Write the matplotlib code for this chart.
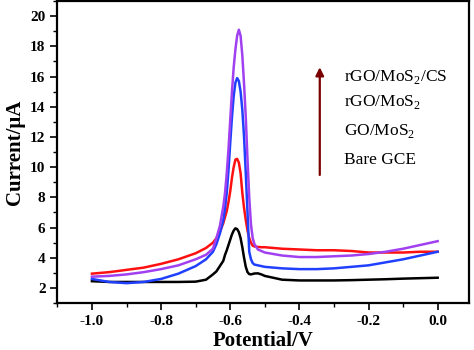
import numpy as np
import matplotlib
matplotlib.use("Agg")
import matplotlib.pyplot as plt
from matplotlib.ticker import MultipleLocator

plt.rcParams['font.family'] = ['Liberation Serif', 'DejaVu Serif']
plt.rcParams['mathtext.fontset'] = 'custom'
plt.rcParams['mathtext.rm'] = 'Liberation Serif'

# potential (V)
potential = [-1.0, -0.95, -0.9, -0.85, -0.8, -0.75, -0.7, -0.67, -0.65, -0.64,
             -0.63, -0.62, -0.615, -0.61, -0.605, -0.60, -0.595, -0.59, -0.585,
             -0.58, -0.575, -0.57, -0.565, -0.56, -0.555, -0.55, -0.545, -0.54,
             -0.535, -0.53, -0.52, -0.51, -0.5, -0.45, -0.4, -0.35, -0.3,
             -0.25, -0.2, -0.15, -0.1, -0.05, 0.0]

# currents (uA)
bare_gce = [2.45, 2.4, 2.4, 2.4, 2.4, 2.4, 2.42, 2.55, 2.9, 3.1,
            3.45, 3.8, 4.2, 4.5, 4.85, 5.2, 5.55, 5.8, 5.95,
            5.9, 5.7, 5.3, 4.7, 4.0, 3.4, 3.05, 2.92, 2.9,
            2.93, 2.96, 2.97, 2.9, 2.8, 2.55, 2.5, 2.5, 2.5,
            2.52, 2.55, 2.58, 2.62, 2.65, 2.68]
go_mos2 = [2.95, 3.05, 3.2, 3.35, 3.6, 3.9, 4.3, 4.65, 5.0, 5.3,
           5.7, 6.3, 6.7, 7.1, 7.7, 8.4, 9.3, 10.0, 10.5,
           10.55, 10.3, 9.6, 8.3, 7.3, 6.5, 5.8, 5.3, 5.0,
           4.8, 4.75, 4.72, 4.7, 4.7, 4.6, 4.55, 4.5, 4.5,
           4.45, 4.35, 4.35, 4.35, 4.4, 4.4]
rgo_mos2 = [2.6, 2.4, 2.32, 2.4, 2.6, 2.95, 3.45, 3.9, 4.4, 4.9,
            5.6, 6.5, 7.3, 8.3, 9.8, 11.6, 13.3, 14.7, 15.6,
            15.9, 15.7, 15.0, 13.8, 12.0, 9.6, 7.0, 4.4, 3.9,
            3.65, 3.55, 3.5, 3.45, 3.4, 3.3, 3.25, 3.25, 3.3,
            3.4, 3.5, 3.7, 3.9, 4.15, 4.4]
rgo_mos2_cs = [2.75, 2.8, 2.9, 3.05, 3.25, 3.5, 3.9, 4.2, 4.6, 5.3,
               6.1, 7.4, 8.3, 9.6, 11.2, 13.1, 15.0, 16.6, 17.8,
               18.7, 19.1, 18.7, 17.4, 15.5, 13.3, 10.5, 8.0, 6.2,
               5.3, 4.9, 4.55, 4.45, 4.35, 4.15, 4.05, 4.05, 4.1,
               4.15, 4.25, 4.4, 4.6, 4.85, 5.1]

labels = ['rGO/MoS$_2$/CS', 'rGO/MoS$_2$', 'GO/MoS$_2$', 'Bare GCE']

fig = plt.figure(figsize=(4.74, 3.5), dpi=100)
ax = fig.add_axes([0.121, 0.134, 0.868, 0.863])

ax.plot(potential, bare_gce, color='black', lw=1.8)
ax.plot(potential, go_mos2, color='#ff1010', lw=1.8)
ax.plot(potential, rgo_mos2, color='#2040ff', lw=1.8)
ax.plot(potential, rgo_mos2_cs, color='#a040f0', lw=1.8)

ax.set_xlim(-1.1, 0.09)
ax.set_ylim(1, 21)
ax.xaxis.set_major_locator(MultipleLocator(0.2))
ax.xaxis.set_minor_locator(MultipleLocator(0.1))
ax.yaxis.set_major_locator(MultipleLocator(2))
ax.yaxis.set_minor_locator(MultipleLocator(1))
ax.set_xticks([-1.0, -0.8, -0.6, -0.4, -0.2, 0.0])
ax.set_xticklabels(['-1.0', '-0.8', '-0.6', '-0.4', '-0.2', '0.0'])
ax.set_yticks(range(2, 21, 2))

ax.tick_params(which='major', direction='out', length=5, width=1.2,
               labelsize=11, top=False, right=False)
ax.tick_params(which='minor', direction='out', length=3, width=1.0,
               top=False, right=False)
for lab in ax.get_xticklabels() + ax.get_yticklabels():
    lab.set_fontweight('bold')
for s in ax.spines.values():
    s.set_linewidth(1.6)

ax.set_xlabel('Potential/V', fontsize=15, fontweight='bold', labelpad=2)
ax.set_ylabel('Current/\u03bcA', fontsize=15, fontweight='bold', labelpad=4)

# arrow and labels
ax.annotate('', xy=(-0.341, 16.8), xytext=(-0.341, 9.3),
            arrowprops=dict(arrowstyle='-|>', color='#7a0000', lw=1.6,
                            mutation_scale=12))
ys = [16.0, 14.3, 12.4, 10.5]
for lab, yv in zip(labels, ys):
    ax.text(-0.27, yv, lab, fontsize=12.5, va='center', ha='left')

fig.savefig('out.png', dpi=100)
